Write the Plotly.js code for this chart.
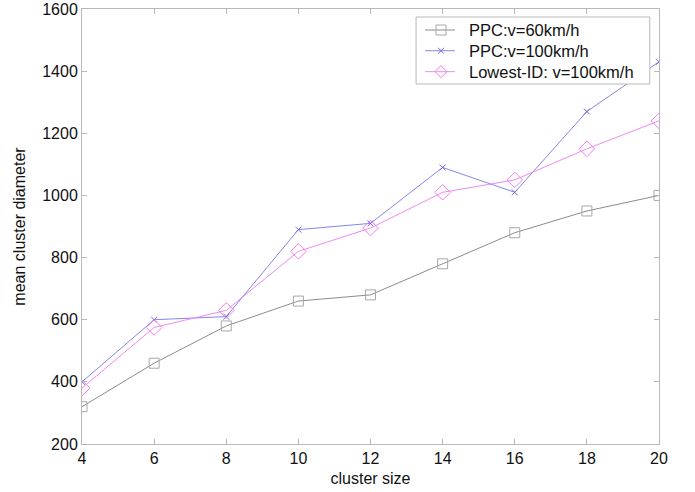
<!DOCTYPE html>
<html>
<head>
<meta charset="utf-8">
<script src="https://cdn.plot.ly/plotly-3.0.1.min.js"></script>
<style>
  html, body { margin: 0; padding: 0; background: #ffffff; }
  #chart { width: 695px; height: 492px; }
</style>
</head>
<body>
<div id="chart"></div>
<script>
// Cluster size on the x axis
const clusterSize = [4, 6, 8, 10, 12, 14, 16, 18, 20];

// Mean cluster diameter for each scheme / speed
const ppc60 = [320, 460, 580, 660, 680, 780, 880, 950, 1000];
const ppc100 = [400, 600, 610, 890, 910, 1090, 1010, 1270, 1430];
const lowestId100 = [380, 575, 630, 820, 895, 1010, 1050, 1150, 1240];

const seriesNames = ['PPC:v=60km/h', 'PPC:v=100km/h', 'Lowest-ID: v=100km/h'];

const xTicks = [4, 6, 8, 10, 12, 14, 16, 18, 20];
const yTicks = [200, 400, 600, 800, 1000, 1200, 1400, 1600];

const font = 'Liberation Sans, Arial, Helvetica, sans-serif';

// Styling per series: line colour, marker symbol, size, marker colour, and
// the key glyph (pixel path around its anchor) used in the boxed legend.
const styles = [
  { line: '#8c8c8c', symbol: 'square-open', size: 10, mcolor: '#a8a8a8',
    key: 'M -5 -5 L 5 -5 L 5 5 L -5 5 Z' },
  { line: '#8585ee', symbol: 'x-thin-open', size: 6, mcolor: '#6b6be8',
    key: 'M -3 -3 L 3 3 M -3 3 L 3 -3' },
  { line: '#f08af0', symbol: 'diamond-open', size: 12, mcolor: '#ee80ee',
    key: 'M -6 0 L 0 6 L 6 0 L 0 -6 Z' }
];

const values = [ppc60, ppc100, lowestId100];

const traces = values.map((ys, i) => ({
  x: clusterSize, y: ys, name: seriesNames[i],
  type: 'scatter', mode: 'lines+markers',
  line: { color: styles[i].line, width: 1 },
  marker: { symbol: styles[i].symbol, size: styles[i].size, color: styles[i].mcolor,
            line: { width: 1, color: styles[i].mcolor } }
}));

const axisCommon = {
  showgrid: false,
  zeroline: false,
  showline: true,
  linecolor: '#b8b8b8',
  linewidth: 1,
  mirror: 'ticks',
  ticks: 'inside',
  ticklen: 5,
  tickcolor: '#b8b8b8',
  tickfont: { family: font, size: 16, color: '#111111' }
};

// Boxed legend in the upper right corner (paper coordinates)
const legendBox = { x0: 0.579, x1: 0.984, y0: 0.8276, y1: 0.9816 };
const legendRows = [0.9517, 0.9041, 0.8559];
const keyLine = { x0: 0.5945, x1: 0.6464, mid: 0.6222 };
const legendTextX = 0.6672;

const shapes = [{
  type: 'rect', xref: 'paper', yref: 'paper', layer: 'above',
  x0: legendBox.x0, x1: legendBox.x1, y0: legendBox.y0, y1: legendBox.y1,
  fillcolor: '#ffffff', line: { color: '#b8b8b8', width: 1 }
}];
const annotations = [];

legendRows.forEach((ry, i) => {
  shapes.push({
    type: 'line', xref: 'paper', yref: 'paper', layer: 'above',
    x0: keyLine.x0, x1: keyLine.x1, y0: ry, y1: ry,
    line: { color: styles[i].line, width: 1 }
  });
  shapes.push({
    type: 'path', xref: 'paper', yref: 'paper', layer: 'above',
    xsizemode: 'pixel', ysizemode: 'pixel', xanchor: keyLine.mid, yanchor: ry,
    path: styles[i].key, fillcolor: 'rgba(0,0,0,0)',
    line: { color: styles[i].mcolor, width: 1 }
  });
  annotations.push({
    xref: 'paper', yref: 'paper', x: legendTextX, y: ry,
    xanchor: 'left', yanchor: 'middle', showarrow: false,
    text: seriesNames[i],
    font: { family: font, size: 16.5, color: '#111111' }
  });
});

const layout = {
  width: 695,
  height: 492,
  margin: { l: 82, r: 36, t: 9, b: 48 },
  paper_bgcolor: '#ffffff',
  plot_bgcolor: '#ffffff',
  font: { family: font, size: 16, color: '#111111' },
  showlegend: false,
  shapes: shapes,
  annotations: annotations,
  xaxis: Object.assign({}, axisCommon, {
    range: [4, 20],
    tickvals: xTicks,
    ticktext: xTicks.map(String),
    title: { text: 'cluster size', font: { family: font, size: 16, color: '#111111' }, standoff: 6 }
  }),
  yaxis: Object.assign({}, axisCommon, {
    range: [200, 1600],
    tickvals: yTicks,
    ticktext: yTicks.map(String),
    title: { text: 'mean cluster diameter', font: { family: font, size: 16, color: '#111111' }, standoff: 12 }
  })
};

Plotly.newPlot('chart', traces, layout, { displayModeBar: false, staticPlot: true });
</script>
</body>
</html>
